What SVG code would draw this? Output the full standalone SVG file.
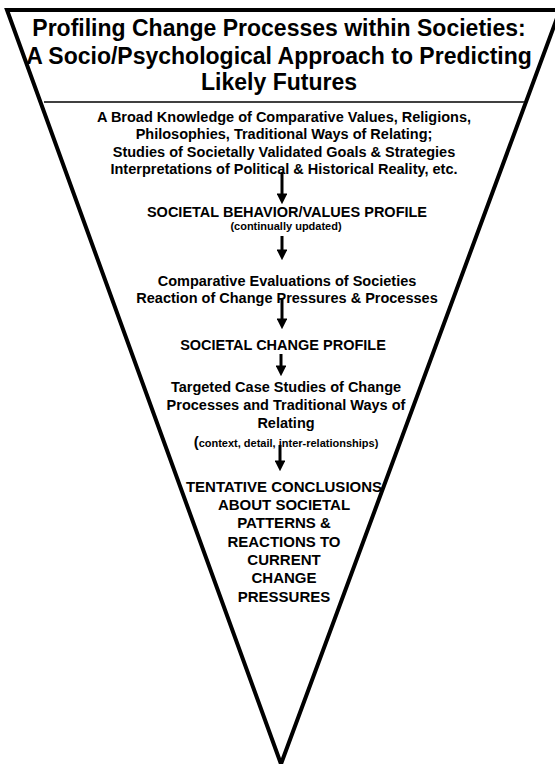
<svg xmlns="http://www.w3.org/2000/svg" width="555" height="764" viewBox="0 0 555 764">
<style>
text{font-family:"Liberation Sans",Arial,sans-serif;font-weight:bold;fill:#000;text-anchor:middle}
.t{font-size:23px}
.b{font-size:14.5px}
.s{font-size:11px}
.c{font-size:15px}
</style>
<defs>
<marker id="ah" markerWidth="3.6" markerHeight="3.6" refX="1.2" refY="1.8" orient="auto" markerUnits="strokeWidth">
<path d="M0,0 L3.6,1.8 L0,3.6 z" fill="#000"/>
</marker>
</defs>
<rect width="555" height="764" fill="#fff"/>
<g id="funnel">
<polygon points="7,10 560,10 281,764" fill="none" stroke="#000" stroke-width="4" stroke-linejoin="miter"/>
<line x1="44" y1="102" x2="524" y2="102" stroke="#404040" stroke-width="2"/>
</g>
<g id="title">
<text class="t" x="279" y="36">Profiling Change Processes within Societies:</text>
<text class="t" x="279" y="64">A Socio/Psychological Approach to Predicting</text>
<text class="t" x="279" y="90">Likely Futures</text>
</g>
<g id="knowledge">
<text class="b" x="284" y="122">A Broad Knowledge of Comparative Values, Religions,</text>
<text class="b" x="284" y="139">Philosophies, Traditional Ways of Relating;</text>
<text class="b" x="284" y="157">Studies of Societally Validated Goals &amp; Strategies</text>
<text class="b" x="284" y="174">Interpretations of Political &amp; Historical Reality, etc.</text>
</g>
<g id="behavior">
<text class="b" x="287" y="217">SOCIETAL BEHAVIOR/VALUES PROFILE</text>
<text class="s" x="286" y="230">(continually updated)</text>
</g>
<g id="evaluations">
<text class="b" x="287" y="286">Comparative Evaluations of Societies</text>
<text class="b" x="287" y="303">Reaction of Change Pressures &amp; Processes</text>
</g>
<g id="change-profile">
<text class="b" x="283" y="350">SOCIETAL CHANGE PROFILE</text>
</g>
<g id="case-studies">
<text class="b" x="286" y="392">Targeted Case Studies of Change</text>
<text class="b" x="286" y="410">Processes and Traditional Ways of</text>
<text class="b" x="286" y="428">Relating</text>
<text class="s" x="286" y="447"><tspan font-size="15px">(</tspan>context, detail, inter-relationships)</text>
</g>
<g id="conclusions">
<text class="c" x="284" y="492">TENTATIVE CONCLUSIONS</text>
<text class="c" x="284" y="510">ABOUT SOCIETAL</text>
<text class="c" x="284" y="528">PATTERNS &amp;</text>
<text class="c" x="284" y="547">REACTIONS TO</text>
<text class="c" x="284" y="565">CURRENT</text>
<text class="c" x="284" y="583">CHANGE</text>
<text class="c" x="284" y="602">PRESSURES</text>
</g>
<g id="connectors" stroke="#000" stroke-width="3" fill="none">
<line x1="282" y1="172" x2="282" y2="197" marker-end="url(#ah)"/>
<line x1="282" y1="236" x2="282" y2="253" marker-end="url(#ah)"/>
<line x1="282" y1="299" x2="282" y2="322" marker-end="url(#ah)"/>
<line x1="281" y1="354" x2="281" y2="369" marker-end="url(#ah)"/>
<line x1="280" y1="445" x2="280" y2="464" marker-end="url(#ah)"/>
</g>
</svg>
